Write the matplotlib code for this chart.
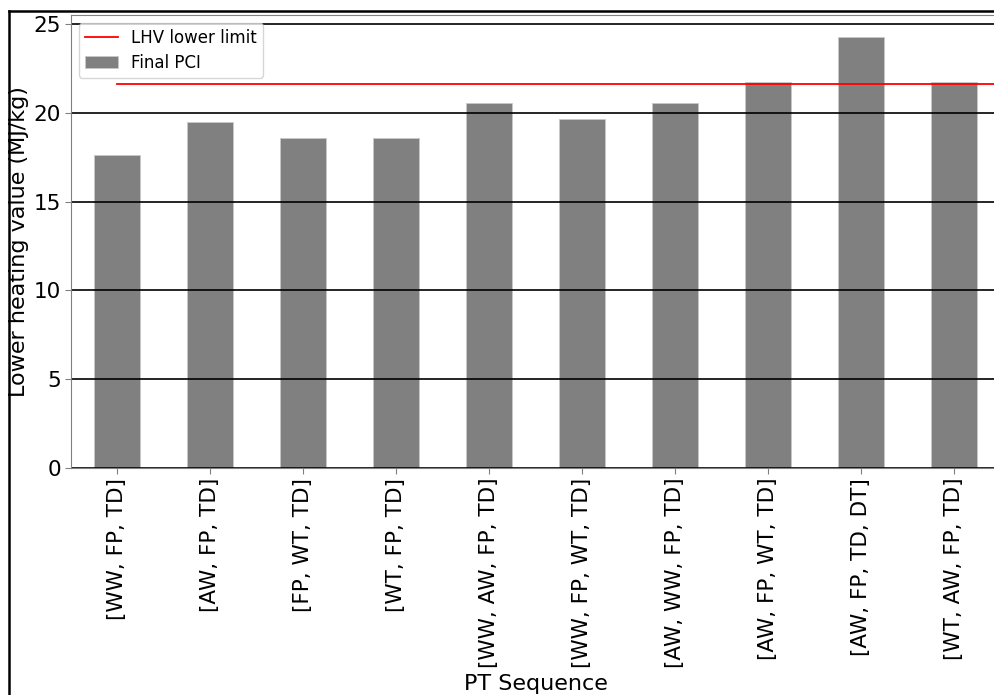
import matplotlib
matplotlib.use("Agg")
import matplotlib.pyplot as plt
from matplotlib.lines import Line2D
import numpy as np

categories = ["[WW, FP, TD]", "[AW, FP, TD]", "[FP, WT, TD]", "[WT, FP, TD]",
              "[WW, AW, FP, TD]", "[WW, FP, WT, TD]", "[AW, WW, FP, TD]",
              "[AW, FP, WT, TD]", "[AW, FP, TD, DT]", "[WT, AW, FP, TD]"]
final_pci = [17.6, 19.5, 18.6, 18.6, 20.57, 19.63, 20.57, 21.72, 24.29, 21.72]
lhv_limit = 21.6
yticks = [0, 5, 10, 15, 20, 25]

W, H = 994, 695
fig = plt.figure(figsize=(W / 100, H / 100), dpi=100)
left, right, top, bottom = 70.5, 1000.5, 15, 468
ax = fig.add_axes([left / W, 1 - bottom / H, (right - left) / W, (bottom - top) / H])

x = np.arange(len(categories))
bars = ax.bar(x, final_pci, width=0.5, color="#808080", edgecolor="#c8c8c8",
              linewidth=0.6, label="Final PCI", zorder=1)
ax.set_xlim(-0.5, len(categories) - 0.5)
ax.set_ylim(0, max(final_pci) * 1.05)

for yv in yticks:
    ax.axhline(yv, color="black", linewidth=1.2, zorder=2)

xmin_frac = (0 - ax.get_xlim()[0]) / (ax.get_xlim()[1] - ax.get_xlim()[0])
red = ax.axhline(lhv_limit, xmin=xmin_frac, color="red", linewidth=1.3,
                 label="LHV lower limit", zorder=3)

ax.set_yticks(yticks)
ax.set_xticks(x)
ax.set_xticklabels(categories, rotation=90, fontsize=15.5)
ax.tick_params(axis="y", labelsize=15.5, length=4, color="#808080", pad=3)
ax.tick_params(axis="x", length=4, color="#808080", pad=3)
for s in ax.spines.values():
    s.set_color("#808080")

ax.set_ylabel("Lower heating value (MJ/kg)", fontsize=16, labelpad=3)
ax.set_xlabel("PT Sequence", fontsize=16, labelpad=4)

ax.legend(handles=[red, bars], labels=["LHV lower limit", "Final PCI"],
          loc="upper left", fontsize=12, framealpha=0.8, borderaxespad=0.5,
          labelspacing=0.4, borderpad=0.35)

# figure frame
fig.add_artist(Line2D([9 / W, 9 / W], [0, 1 - 11 / H], transform=fig.transFigure,
                      color="black", linewidth=1.8))
fig.add_artist(Line2D([9 / W, 1], [1 - 11 / H, 1 - 11 / H], transform=fig.transFigure,
                      color="black", linewidth=1.8))

fig.savefig("out.png", dpi=100)
